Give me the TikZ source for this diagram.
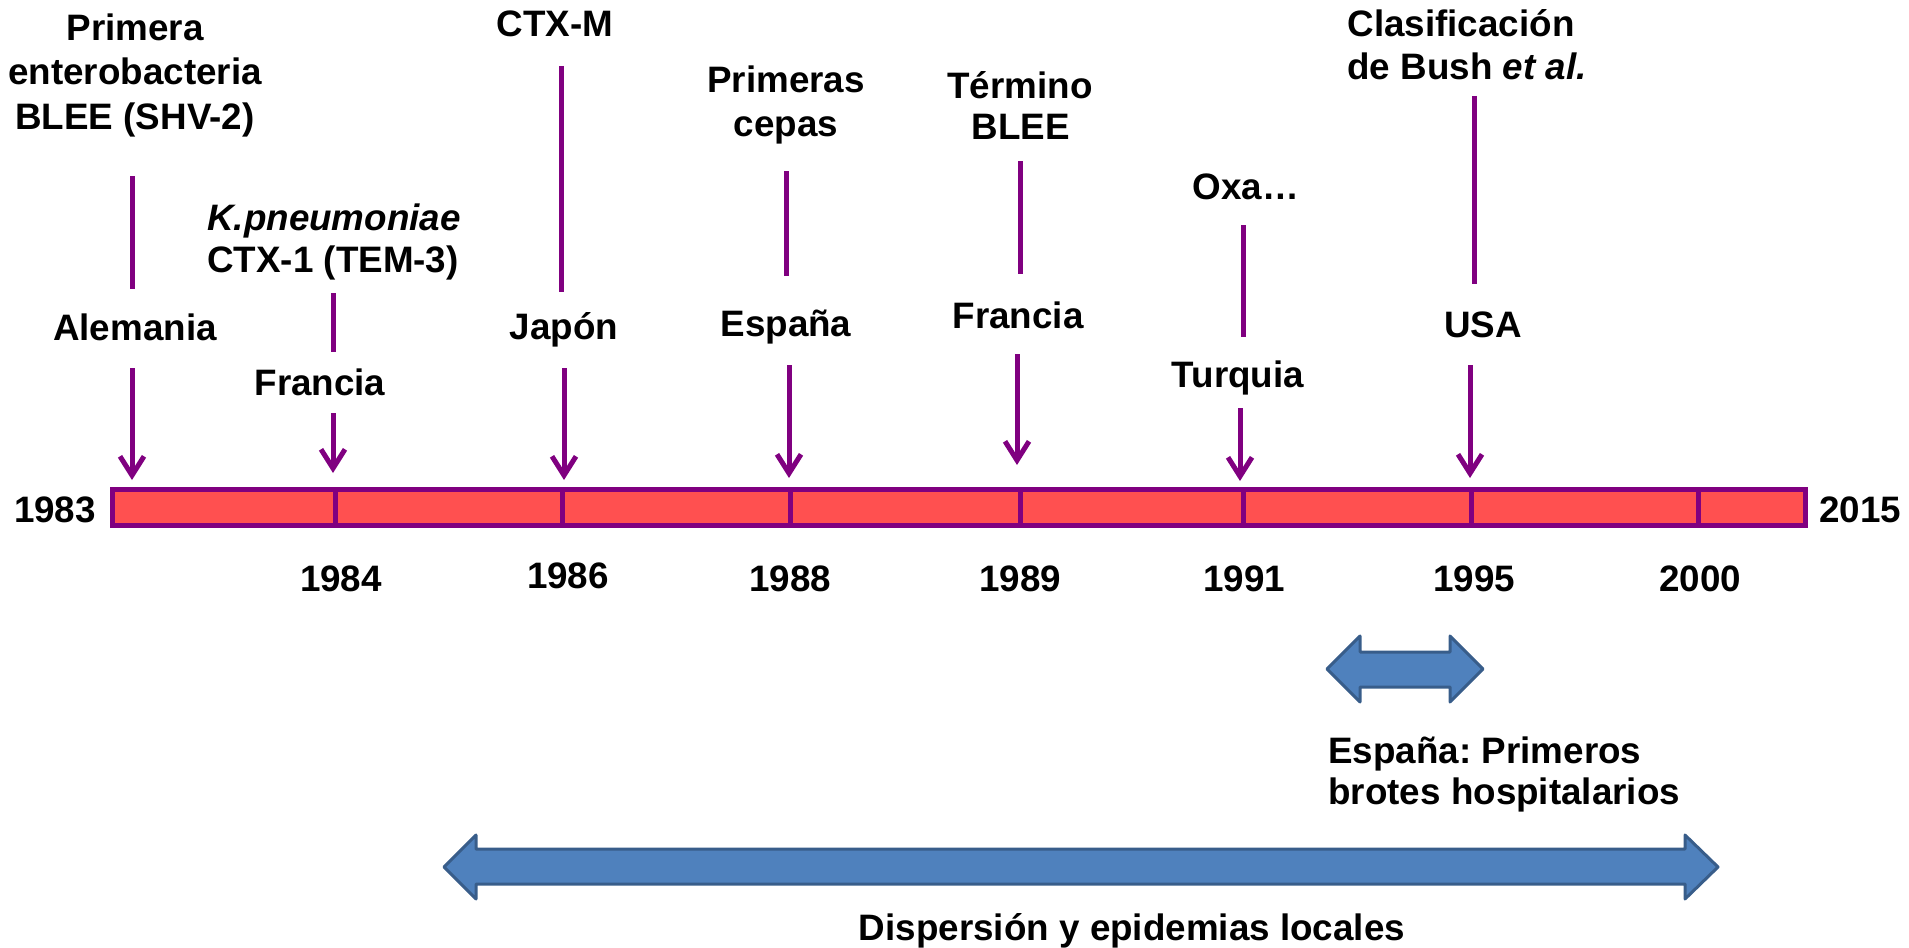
\documentclass[tikz,border=0pt]{standalone}
\usepackage{fontspec}
\setmainfont{Liberation Sans}
\usetikzlibrary{arrows.meta}
\definecolor{barred}{HTML}{FF5050}
\definecolor{barpurple}{HTML}{800080}
\definecolor{blfill}{HTML}{4F81BD}
\definecolor{bledge}{HTML}{385D8A}
\frenchspacing
\begin{document}
\begin{tikzpicture}[x=0.5pt,y=-0.5pt,
  lbl/.style={font=\fontsize{18.4}{22}\selectfont\bfseries, inner sep=0pt, anchor=base},
  lblw/.style={lbl, anchor=base west},
  vline/.style={draw=barpurple, line width=2.5pt},
  varrow/.style={vline, -{Straight Barb[length=9.5pt,width=12pt]}},
  bluearrow/.style={fill=blfill, draw=bledge, line width=1.5pt, line join=round},
  tick/.style={draw=barpurple, line width=2.5pt}]
\useasboundingbox (0,0) rectangle (1909,947);

% timeline bar
\node (bar) [draw=barpurple, fill=barred, line width=2.5pt, inner sep=0pt,
  minimum width=846.5pt, minimum height=18pt] at (959,507.5) {};
\foreach \x in {335,562,790,1020,1243,1471,1698}
  \draw[tick] (\x,489.5) -- (\x,525.5);

\node[lbl] (y1983) at (55,522) {1983};
\node[lbl] (y2015) at (1860,522) {2015};
\node[lbl] (y1984) at (341,591) {1984};
\node[lbl] (y1986) at (568,588) {1986};
\node[lbl] (y1988) at (790,591) {1988};
\node[lbl] (y1989) at (1020,591) {1989};
\node[lbl] (y1991) at (1244,591) {1991};
\node[lbl] (y1995) at (1474,591) {1995};
\node[lbl] (y2000) at (1700,591) {2000};

% event 1
\node[lbl] (t1a) at (135,41) {Primera};
\node[lbl] (t1b) at (135,84) {enterobacteria};
\node[lbl] (t1c) at (135,129) {BLEE (SHV-2)};
\node[lbl] (p1) at (135,340) {Alemania};
\coordinate (u1s) at (132,176); \coordinate (u1e) at (132,289);
\coordinate (d1s) at (132,368); \coordinate (d1e) at (132,480);
\draw[vline] (u1s) -- (u1e);
\draw[varrow] (d1s) -- (d1e);

% event 2
\node[lbl] (t2a) at (334,230) {\itshape K.pneumoniae};
\node[lbl] (t2b) at (333,272) {CTX-1 (TEM-3)};
\node[lbl] (p2) at (320,395) {Francia};
\coordinate (u2s) at (333,293); \coordinate (u2e) at (333,352);
\coordinate (d2s) at (333,413); \coordinate (d2e) at (333,473);
\draw[vline] (u2s) -- (u2e);
\draw[varrow] (d2s) -- (d2e);

% event 3
\node[lbl] (t3a) at (555,37) {CTX-M};
\node[lbl] (p3) at (564,339) {Japón};
\coordinate (u3s) at (561,66); \coordinate (u3e) at (561,292);
\coordinate (d3s) at (564,368); \coordinate (d3e) at (564,480);
\draw[vline] (u3s) -- (u3e);
\draw[varrow] (d3s) -- (d3e);

% event 4
\node[lbl] (t4a) at (786,93) {Primeras};
\node[lbl] (t4b) at (786,136) {cepas};
\node[lbl] (p4) at (786,336) {España};
\coordinate (u4s) at (786,171); \coordinate (u4e) at (786,276);
\coordinate (d4s) at (789,365); \coordinate (d4e) at (789,478);
\draw[vline] (u4s) -- (u4e);
\draw[varrow] (d4s) -- (d4e);

% event 5
\node[lbl] (t5a) at (1020,98) {Término};
\node[lbl] (t5b) at (1021,140) {BLEE};
\node[lbl] (p5) at (1018,328) {Francia};
\coordinate (u5s) at (1020,161); \coordinate (u5e) at (1020,274);
\coordinate (d5s) at (1017,354); \coordinate (d5e) at (1017,465);
\draw[vline] (u5s) -- (u5e);
\draw[varrow] (d5s) -- (d5e);

% event 6
\node[lbl] (t6a) at (1246,199) {Oxa…};
\node[lbl] (p6) at (1238,387) {Turquia};
\coordinate (u6s) at (1243,225); \coordinate (u6e) at (1243,337);
\coordinate (d6s) at (1240,408); \coordinate (d6e) at (1240,481);
\draw[vline] (u6s) -- (u6e);
\draw[varrow] (d6s) -- (d6e);

% event 7
\node[lbl] (t7a) at (1461,37) {Clasificación};
\node[lbl] (t7b) at (1467,80) {de Bush \textit{et al.}};
\node[lbl] (p7) at (1483,337) {USA};
\coordinate (u7s) at (1474,96); \coordinate (u7e) at (1474,284);
\coordinate (d7s) at (1470,365); \coordinate (d7e) at (1470,478);
\draw[vline] (u7s) -- (u7e);
\draw[varrow] (d7s) -- (d7e);

% blue double arrows
\draw[bluearrow] (1327,669) -- (1360,636) -- (1360,652) -- (1450,652) -- (1450,636)
  -- (1483,669) -- (1450,702) -- (1450,687) -- (1360,687) -- (1360,702) -- cycle;
\node[lblw] (sp1) at (1328,763) {España: Primeros};
\node[lblw] (sp2) at (1328,804) {brotes hospitalarios};

\draw[bluearrow] (444,867) -- (476,835) -- (476,849) -- (1685,849) -- (1685,835)
  -- (1718,867) -- (1685,899) -- (1685,884) -- (476,884) -- (476,899) -- cycle;
\node[lbl] (disp) at (1132,940) {Dispersión y epidemias locales};
\end{tikzpicture}
\end{document}
